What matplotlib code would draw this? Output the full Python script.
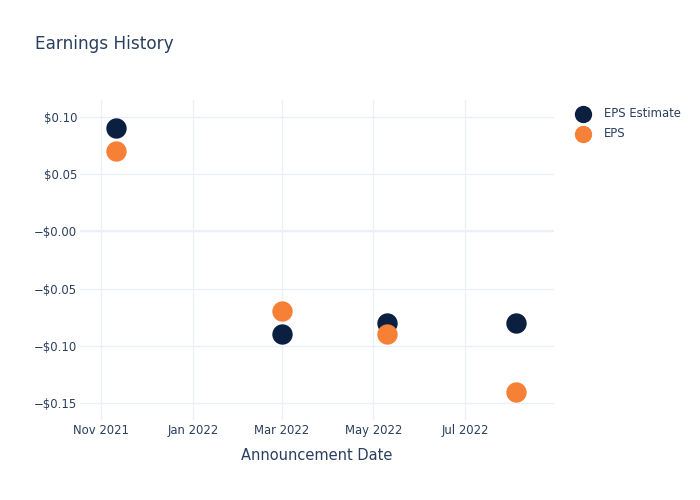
import matplotlib.pyplot as plt
import matplotlib.dates as mdates
import pandas as pd

dates = pd.to_datetime(["2021-11-11", "2022-03-01", "2022-05-10", "2022-08-04"])
eps_estimate = [0.09, -0.09, -0.08, -0.08]
eps_actual = [0.07, -0.07, -0.09, -0.14]

yticks = [0.10, 0.05, 0.0, -0.05, -0.10, -0.15]
ytick_labels = ["$0.10", "$0.05", "\u2212$0.00", "\u2212$0.05", "\u2212$0.10", "\u2212$0.15"]
xticks = pd.to_datetime(["2021-11-01", "2022-01-01", "2022-03-01", "2022-05-01", "2022-07-01"])
xtick_labels = ["Nov 2021", "Jan 2022", "Mar 2022", "May 2022", "Jul 2022"]

txt = "#2a3f5f"
grid = "#ebf0f8"

fig = plt.figure(figsize=(7, 5), dpi=100)
ax = fig.add_axes([0.1143, 0.16, 0.677, 0.64])

ax.scatter(dates, eps_estimate, s=215, color="#0b1f40", label="EPS Estimate", zorder=3, linewidths=0)
ax.scatter(dates, eps_actual, s=215, color="#f68035", label="EPS", zorder=3, linewidths=0)

ax.set_xlim(pd.Timestamp("2021-10-18"), pd.Timestamp("2022-08-29"))
ax.set_ylim(-0.1649, 0.1149)
ax.set_yticks(yticks)
ax.set_yticklabels(ytick_labels)
ax.set_xticks(xticks)
ax.set_xticklabels(xtick_labels)

for s in ax.spines.values():
    s.set_visible(False)
ax.grid(True, color=grid, linewidth=1)
ax.axhline(0, color=grid, linewidth=1.6, zorder=1)
ax.set_axisbelow(True)
ax.tick_params(length=0, labelsize=8.4, colors=txt)
ax.tick_params(axis="y", pad=2)
ax.tick_params(axis="x", pad=3)

ax.set_xlabel("Announcement Date", fontsize=10.5, color=txt, labelpad=8)
fig.text(0.05, 0.912, "Earnings History", fontsize=12.2, color=txt, va="center")

leg = ax.legend(loc="upper left", bbox_to_anchor=(1.015, 1.01), frameon=False,
                fontsize=8.4, handletextpad=0.75, labelspacing=0.55, markerscale=0.85)
for t in leg.get_texts():
    t.set_color(txt)

fig.savefig("out.png", dpi=100)
